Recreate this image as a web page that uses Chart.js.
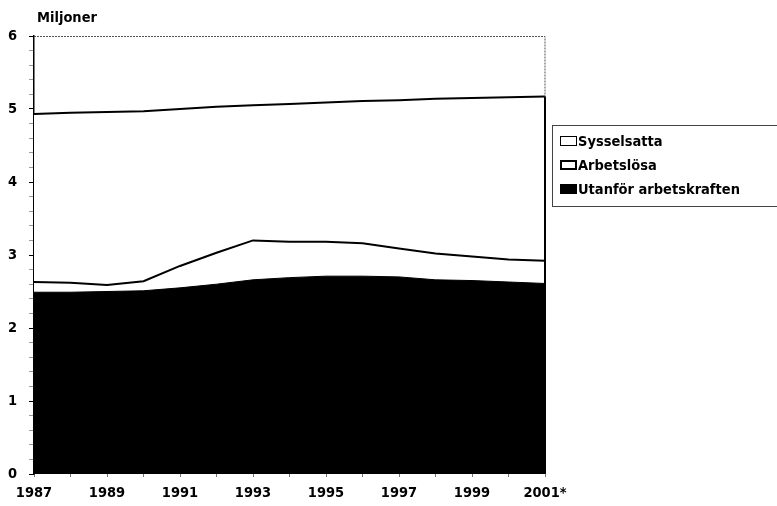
<!DOCTYPE html>
<html>
<head>
<meta charset="utf-8">
<script src="https://cdn.jsdelivr.net/npm/chart.js@4.4.1/dist/chart.umd.min.js"></script>
<style>
  html, body { margin: 0; padding: 0; background: #fff; }
  #wrap { position: relative; width: 777px; height: 506px; }
  #unit { position: absolute; left: 37px; top: 9px; font: bold 14.5px 'DejaVu Sans Condensed', sans-serif; color: #000; }
  #legend { position: absolute; left: 552px; top: 125px; width: 225px; height: 82px; border: 1px solid #444; border-right: none;
            font: bold 14.5px 'DejaVu Sans Condensed', sans-serif; color: #000; box-sizing: border-box; }
  .item { position: absolute; left: 7px; height: 20px; line-height: 20px; white-space: nowrap; }
  .sw { display: inline-block; width: 17px; height: 10px; vertical-align: middle; margin-right: 1px; box-sizing: border-box; position: relative; top: -1px; }
</style>
</head>
<body>
<div id="wrap">
  <canvas id="main-chart" width="777" height="506"></canvas>
  <div id="unit">Miljoner</div>
  <div id="legend"></div>
</div>
<script>
// years (last one preliminary)
const years = ['1987', '1988', '1989', '1990', '1991', '1992', '1993', '1994', '1995', '1996', '1997', '1998', '1999', '2000', '2001*']
// millions, stacked bottom -> top
const utanfor = [2.49, 2.49, 2.50, 2.51, 2.55, 2.60, 2.66, 2.69, 2.71, 2.71, 2.70, 2.66, 2.65, 2.63, 2.61]
const arbetslosa = [0.14, 0.13, 0.09, 0.13, 0.30, 0.43, 0.54, 0.49, 0.47, 0.45, 0.39, 0.36, 0.33, 0.31, 0.31]
const sysselsatta = [2.30, 2.33, 2.37, 2.33, 2.15, 2.00, 1.85, 1.89, 1.91, 1.95, 2.03, 2.12, 2.17, 2.22, 2.25]
const yTicks = [0, 1, 2, 3, 4, 5, 6]

const FONT = "'DejaVu Sans Condensed', sans-serif"

// legend in html
const legendItems = [
    { label: 'Sysselsatta', style: 'background:#fff;border:1.5px solid #000' },
    { label: 'Arbetslösa', style: 'background:#fff;border:2.5px solid #000' },
    { label: 'Utanför arbetskraften', style: 'background:#000;border:1px solid #000' }
]
let legendHtml = ''
legendItems.forEach(function(it, i) {
    legendHtml += '<div class="item" style="top:' + (5 + i * 24) + 'px"><span class="sw" style="' + it.style + '"></span>' + it.label + '</div>'
})
document.getElementById('legend').innerHTML = legendHtml

// dotted frame on top/right, solid right edge below the top line
const frame = {
    id: 'frame',
    afterDatasetsDraw(chart) {
        const ctx = chart.ctx
        const a = chart.chartArea
        const y = chart.scales.y
        const last = years.length - 1
        const topVal = utanfor[last] + arbetslosa[last] + sysselsatta[last]
        ctx.save()
        ctx.strokeStyle = '#555'
        ctx.lineWidth = 1
        ctx.setLineDash([2, 1])
        ctx.beginPath()
        ctx.moveTo(a.left, a.top + 0.5)
        ctx.lineTo(a.right, a.top + 0.5)
        ctx.lineTo(a.right, a.bottom)
        ctx.stroke()
        ctx.setLineDash([])
        ctx.strokeStyle = '#000'
        ctx.lineWidth = 2
        ctx.beginPath()
        ctx.moveTo(a.right, y.getPixelForValue(topVal))
        ctx.lineTo(a.right, a.bottom)
        ctx.stroke()
        ctx.restore()
    }
}

new Chart(document.getElementById('main-chart'), {
    type: 'line',
    data: {
        labels: years,
        datasets: [
            { label: 'Utanför arbetskraften', data: utanfor, fill: 'origin', backgroundColor: '#000', borderColor: '#000', borderWidth: 1 },
            { label: 'Arbetslösa', data: arbetslosa, fill: '-1', backgroundColor: '#fff', borderColor: '#000', borderWidth: 2 },
            { label: 'Sysselsatta', data: sysselsatta, fill: '-1', backgroundColor: '#fff', borderColor: '#000', borderWidth: 2 }
        ]
    },
    plugins: [frame],
    options: {
        responsive: false,
        animation: false,
        devicePixelRatio: 1,
        layout: { padding: { left: 0, right: 232, top: 36, bottom: 0 } },
        elements: { point: { radius: 0 }, line: { tension: 0 } },
        plugins: { legend: { display: false }, tooltip: { enabled: false } },
        scales: {
            x: {
                stacked: true,
                offset: false,
                grid: { drawOnChartArea: false, tickLength: 3, color: '#777' },
                border: { display: false },
                ticks: {
                    autoSkip: false,
                    maxRotation: 0,
                    padding: 8,
                    color: '#000',
                    font: { family: FONT, size: 14.5, weight: 'bold' },
                    callback: function(v, i) { return i % 2 == 0 ? years[i] : '' }
                },
                afterFit: function(s) { s.height = 32 }
            },
            y: {
                stacked: true,
                min: yTicks[0],
                max: yTicks[yTicks.length - 1],
                grid: {
                    drawOnChartArea: false,
                    tickLength: 5,
                    color: function(c) { return Number.isInteger(Math.round(c.tick.value * 10) / 10) ? '#000' : '#999' }
                },
                border: { color: '#000', width: 1.5 },
                ticks: {
                    autoSkip: false,
                    stepSize: 0.2,
                    padding: 12,
                    color: '#000',
                    font: { family: FONT, size: 14.5, weight: 'bold' },
                    callback: function(v) {
                        let r = Math.round(v * 10) / 10
                        return yTicks.indexOf(r) >= 0 ? String(r) : ''
                    }
                },
                afterFit: function(s) { s.width = 34 }
            }
        }
    }
})
</script>
</body>
</html>
